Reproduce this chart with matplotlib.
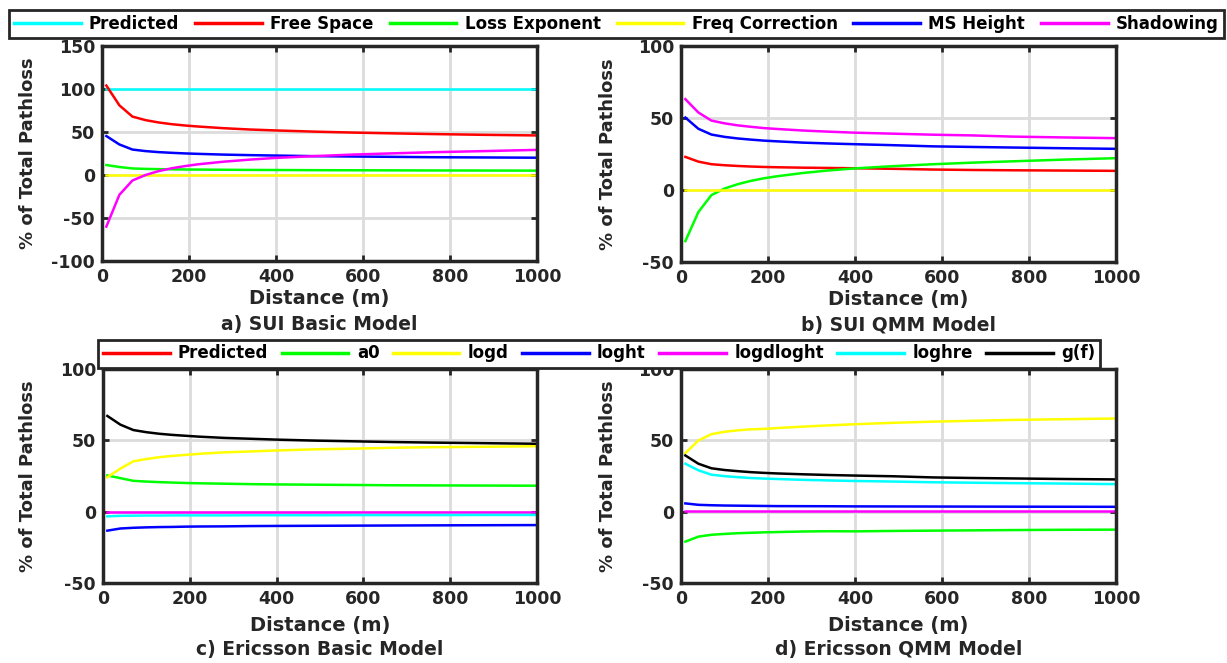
import numpy as np
import matplotlib
matplotlib.use("Agg")
import matplotlib.pyplot as plt

plt.rcParams['font.family'] = ['DejaVu Sans']
plt.rcParams['font.weight'] = 'bold'
plt.rcParams['axes.unicode_minus'] = False

# distance (m)
dist = [10, 40, 70, 100, 130, 160, 190, 220, 280, 340, 400, 490, 580, 670, 760, 880, 1000]

# a) SUI Basic Model (% of total pathloss)
sui_basic = {
    "Predicted":       [100] * 17,
    "Free Space":      [104.0, 81.0, 67.9, 63.8, 61.1, 59.1, 57.6, 56.4, 54.4, 52.9, 51.8, 50.4, 49.3, 48.4, 47.6, 46.7, 46.0],
    "Loss Exponent":   [11.6, 9.3, 7.6, 7.1, 6.8, 6.6, 6.4, 6.3, 6.1, 5.9, 5.8, 5.6, 5.5, 5.4, 5.3, 5.2, 5.1],
    "Freq Correction": [0] * 17,
    "MS Height":       [45.3, 35.5, 29.6, 27.8, 26.6, 25.8, 25.1, 24.6, 23.7, 23.1, 22.6, 21.9, 21.5, 21.1, 20.7, 20.4, 20.1],
    "Shadowing":       [-60.0, -23.0, -6.4, 0.0, 4.5, 7.8, 10.3, 12.4, 15.5, 17.9, 19.9, 22.0, 23.8, 25.2, 26.5, 27.8, 29.2],
}

# b) SUI QMM Model
sui_qmm = {
    "Predicted":       [100] * 17,
    "Free Space":      [23.0, 19.7, 17.9, 17.2, 16.7, 16.3, 16.0, 15.8, 15.5, 15.3, 15.1, 14.7, 14.2, 13.9, 13.7, 13.5, 13.3],
    "Loss Exponent":   [-35.5, -15.3, -3.5, 1.0, 4.0, 6.3, 8.1, 9.5, 11.8, 13.6, 15.0, 16.6, 17.9, 19.0, 19.9, 21.1, 22.1],
    "Freq Correction": [0] * 17,
    "MS Height":       [50.3, 42.5, 38.5, 36.9, 35.8, 35.0, 34.3, 33.8, 32.9, 32.3, 31.8, 31.1, 30.3, 29.9, 29.5, 29.0, 28.6],
    "Shadowing":       [63.1, 53.8, 48.2, 46.3, 44.9, 43.9, 43.0, 42.4, 41.3, 40.5, 39.8, 39.1, 38.4, 37.9, 37.1, 36.5, 36.0],
}

# c) Ericsson Basic Model
eric_basic = {
    "Predicted":  [100] * 17,
    "a0":         [25.4, 23.5, 21.6, 21.1, 20.7, 20.4, 20.1, 19.9, 19.6, 19.3, 19.1, 18.9, 18.7, 18.5, 18.4, 18.3, 18.2],
    "logd":       [24.1, 30.2, 35.3, 36.9, 38.2, 39.1, 39.8, 40.5, 41.6, 42.2, 42.9, 43.7, 44.2, 44.8, 45.2, 45.5, 45.9],
    "loght":      [-13.3, -11.8, -11.3, -11.0, -10.8, -10.7, -10.5, -10.4, -10.3, -10.1, -10.0, -9.9, -9.8, -9.7, -9.6, -9.5, -9.4],
    "logdloght":  [0] * 17,
    "loghre":     [-3.3, -2.9, -2.8, -2.7, -2.7, -2.6, -2.6, -2.6, -2.6, -2.5, -2.5, -2.5, -2.4, -2.4, -2.4, -2.3, -2.3],
    "g(f)":       [67.1, 61.0, 57.2, 55.7, 54.6, 53.8, 53.2, 52.6, 51.7, 51.1, 50.5, 49.8, 49.3, 48.8, 48.4, 48.0, 47.6],
}

# d) Ericsson QMM Model
eric_qmm = {
    "Predicted":  [100] * 17,
    "a0":         [-21.0, -17.5, -16.2, -15.6, -15.1, -14.8, -14.5, -14.3, -13.9, -13.7, -13.8, -13.5, -13.3, -13.1, -12.9, -12.7, -12.6],
    "logd":       [41.0, 49.9, 54.3, 56.0, 57.0, 57.7, 58.0, 58.6, 59.6, 60.5, 61.3, 62.3, 63.1, 63.7, 64.3, 64.8, 65.3],
    "loght":      [5.8, 4.8, 4.5, 4.3, 4.2, 4.1, 4.0, 3.9, 3.85, 3.8, 3.7, 3.65, 3.6, 3.55, 3.5, 3.45, 3.4],
    "logdloght":  [0.8] * 17,
    "loghre":     [33.6, 29.0, 25.9, 24.9, 24.2, 23.6, 23.2, 22.9, 22.3, 21.9, 21.5, 21.1, 20.6, 20.3, 20.0, 19.7, 19.3],
    "g(f)":       [39.4, 33.6, 30.4, 29.2, 28.4, 27.7, 27.2, 26.8, 26.2, 25.7, 25.3, 24.8, 24.0, 23.6, 23.3, 22.9, 22.6],
}

sui_colors = {"Predicted": "#00ffff", "Free Space": "#ff0000", "Loss Exponent": "#00ff00",
              "Freq Correction": "#ffff00", "MS Height": "#0000ff", "Shadowing": "#ff00ff"}
eric_colors = {"Predicted": "#ff0000", "a0": "#00ff00", "logd": "#ffff00", "loght": "#0000ff",
               "logdloght": "#ff00ff", "loghre": "#00ffff", "g(f)": "#000000"}

W, H = 1227, 663
fig = plt.figure(figsize=(W / 100, H / 100), dpi=100)


def px_axes(x0, x1, y0, y1):
    return fig.add_axes([x0 / W, 1 - y1 / H, (x1 - x0) / W, (y1 - y0) / H])


def style(ax, ylim, yticks, title, xl_off, t_off, yl_x):
    pos = ax.get_position()
    hpx = pos.height * H
    ax.set_xlim(0, 1000)
    ax.set_ylim(*ylim)
    ax.set_xticks(range(0, 1001, 200))
    ax.set_yticks(yticks)
    ax.grid(True, color="#dcdcdc", lw=2)
    ax.set_axisbelow(True)
    for s in ax.spines.values():
        s.set_linewidth(2.5)
        s.set_color("#262626")
    ax.tick_params(direction="in", length=4, width=2, top=True, right=True,
                   labelsize=12.5, colors="#262626", pad=5)
    for lab in ax.get_xticklabels() + ax.get_yticklabels():
        lab.set_fontweight("bold")
    ax.text(0.5, -xl_off / hpx, "Distance (m)", transform=ax.transAxes, ha="center",
            va="center", fontsize=14, fontweight="bold", color="#262626")
    ax.text(0.5, -t_off / hpx, title, transform=ax.transAxes, ha="center",
            va="center", fontsize=13.5, fontweight="bold", color="#262626")
    ax.set_ylabel("% of Total Pathloss", fontsize=13, fontweight="bold", color="#262626")
    ax.yaxis.set_label_coords((yl_x - pos.x0 * W) / (pos.width * W), 0.5)


def draw(ax, data, colors):
    lines = []
    for name, vals in data.items():
        ln, = ax.plot(dist, vals, color=colors[name], lw=1.8, label=name)
        lines.append(ln)
    return lines


ax_a = px_axes(102, 537, 46, 261)
ax_b = px_axes(681, 1116, 46, 262)
ax_c = px_axes(103, 537, 369, 583)
ax_d = px_axes(681, 1116, 369, 583)

h1 = draw(ax_a, sui_basic, sui_colors)
draw(ax_b, sui_qmm, sui_colors)
h2 = draw(ax_c, eric_basic, eric_colors)
draw(ax_d, eric_qmm, eric_colors)

style(ax_a, (-100, 150), range(-100, 151, 50), "a) SUI Basic Model", 38, 64, 37)
style(ax_b, (-50, 100), range(-50, 101, 50), "b) SUI QMM Model", 38, 64, 617)
style(ax_c, (-50, 100), range(-50, 101, 50), "c) Ericsson Basic Model", 42, 67, 37)
style(ax_d, (-50, 100), range(-50, 101, 50), "d) Ericsson QMM Model", 42, 67, 617)

leg_kw = dict(loc="center", mode="expand", borderaxespad=0, prop={"weight": "bold", "size": 12},
              handlelength=4, handletextpad=0.5, borderpad=0.3, fancybox=False,
              edgecolor="#262626", framealpha=1)

leg1 = fig.legend(h1, [h.get_label() for h in h1], ncol=6,
                  bbox_to_anchor=(9 / W, 1 - 38 / H, 1215 / W, 28 / H), **leg_kw)
leg2 = fig.legend(h2, [h.get_label() for h in h2], ncol=7,
                  bbox_to_anchor=(98 / W, 1 - 369 / H, 1002 / W, 31 / H), **leg_kw)
for leg in (leg1, leg2):
    leg.get_frame().set_linewidth(2)
    for ln in leg.get_lines():
        ln.set_linewidth(2.5)

fig.savefig("out.png", dpi=100)
